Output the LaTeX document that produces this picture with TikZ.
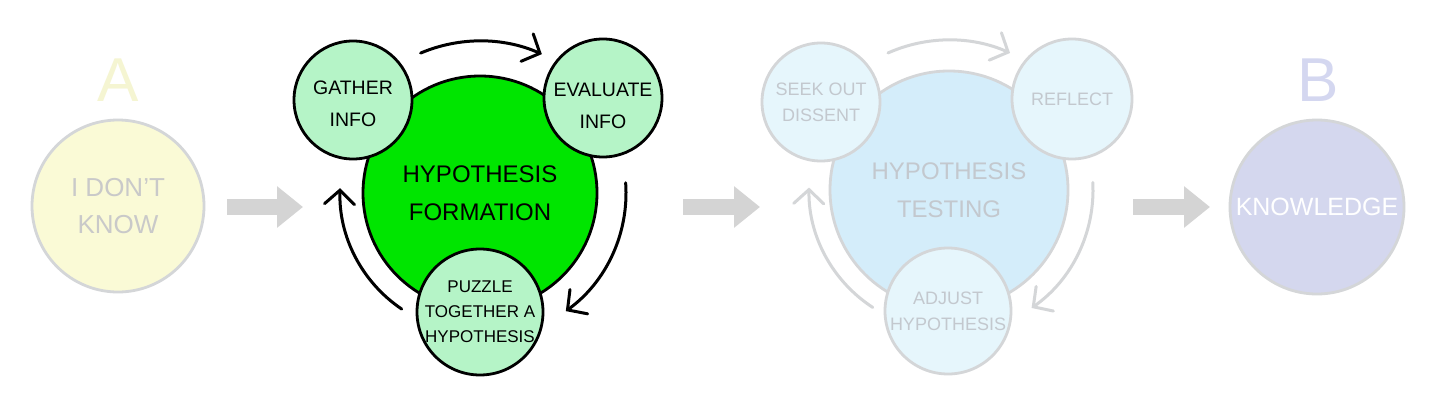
\documentclass[tikz,border=0pt]{standalone}
\usepackage{fontspec}
\setmainfont{Liberation Sans}
\usetikzlibrary{arrows.meta}
\definecolor{bright}{HTML}{00E500}
\definecolor{mint}{HTML}{B5F4C7}
\definecolor{yel}{HTML}{FAFAD6}
\definecolor{yelA}{HTML}{F5F5D2}
\definecolor{faint}{HTML}{C9C9C9}
\definecolor{ring}{HTML}{D4D6D8}
\definecolor{bluebig}{HTML}{D4EDFA}
\definecolor{bluesm}{HTML}{E6F6FC}
\definecolor{bluetxt}{HTML}{C3C8CE}
\definecolor{lav}{HTML}{D4D7EE}
\definecolor{lavB}{HTML}{D4D7F0}
\definecolor{fat}{HTML}{D4D4D4}
\tikzset{
  bub/.style={circle, inner sep=0pt, align=center, line width=2.8pt},
  dark/.style={bub, draw=black, text=black},
  pale/.style={bub, draw=ring, text=bluetxt},
  cyc/.style={line width=3pt, line cap=round, -{Straight Barb[length=14pt,width=30pt,line cap=round]}},
  fatarrow/.style={draw=fat, line width=16pt, -{Triangle[length=26pt,width=40pt]}},
  fbig/.style={font=\fontsize{24}{38}\selectfont},
  fmid/.style={font=\fontsize{19.5}{32}\selectfont},
  fsm/.style={font=\fontsize{17}{25}\selectfont},
  fsm2/.style={font=\fontsize{18}{26}\selectfont},
  letter/.style={font=\fontsize{62}{62}\selectfont}
}
\begin{document}
\begin{tikzpicture}[x=1pt,y=1pt]
\useasboundingbox[fill=white] (0,0) rectangle (1434,400);
% A
\node[letter, text=yelA] (la) at (118,320) {A};
\node[bub, draw=ring, fill=yel, text=faint, minimum size=172pt, font=\fontsize{26}{37}\selectfont] (a) at (118,194) {I DON'T\\KNOW};
\coordinate (a1s) at (227,193);
\coordinate (a1e) at (303,193);
\draw[fatarrow] (a1s) -- (a1e);
% formation
\node[dark, fill=bright, minimum size=234pt, fbig] (F) at (480,207) {HYPOTHESIS\\FORMATION};
\node[dark, fill=mint, minimum size=118pt] (g) at (353,300) {};
\node[fmid, align=center] (gt) at (353,296) {GATHER\\INFO};
\node[dark, fill=mint, minimum size=118pt] (e) at (603,302) {};
\node[fmid, align=center] (et) at (603,294) {EVALUATE\\INFO};
\node[dark, fill=mint, minimum size=126pt, fsm] (p) at (480,88) {PUZZLE\\TOGETHER A\\HYPOTHESIS};
\draw[cyc] ([shift={(113:152)}]F.center) arc[start angle=113, end angle=66, radius=152];
\draw[cyc] ([shift={(4:146)}]F.center) arc[start angle=4, end angle=-54, radius=146];
\draw[cyc] ([shift={(236:140)}]F.center) arc[start angle=236, end angle=178, radius=140];
\coordinate (a2s) at (683,193);
\coordinate (a2e) at (760,193);
\draw[fatarrow] (a2s) -- (a2e);
% testing
\node[pale, fill=bluebig, minimum size=238pt, fbig] (T) at (949,210) {HYPOTHESIS\\TESTING};
\node[pale, fill=bluesm, minimum size=118pt, fsm2] (s) at (821,298) {SEEK OUT\\DISSENT};
\node[pale, fill=bluesm, minimum size=120pt, fsm2] (r) at (1072,301) {REFLECT};
\node[pale, fill=bluesm, minimum size=126pt, fsm2] (d) at (948,89) {ADJUST\\HYPOTHESIS};
\draw[cyc, draw=ring] ([shift={(114:150)}]T.center) arc[start angle=114, end angle=66, radius=150];
\draw[cyc, draw=ring] ([shift={(3:144)}]T.center) arc[start angle=3, end angle=-55, radius=144];
\draw[cyc, draw=ring] ([shift={(237:140)}]T.center) arc[start angle=237, end angle=179, radius=140];
\coordinate (a3s) at (1133,193);
\coordinate (a3e) at (1210,193);
\draw[fatarrow] (a3s) -- (a3e);
% B
\node[letter, text=lavB] (lb) at (1318,320) {B};
\node[bub, draw=ring, fill=lav, text=white, minimum size=174pt, font=\fontsize{25}{30}\selectfont] (k) at (1317,193) {KNOWLEDGE};
\end{tikzpicture}
\end{document}
